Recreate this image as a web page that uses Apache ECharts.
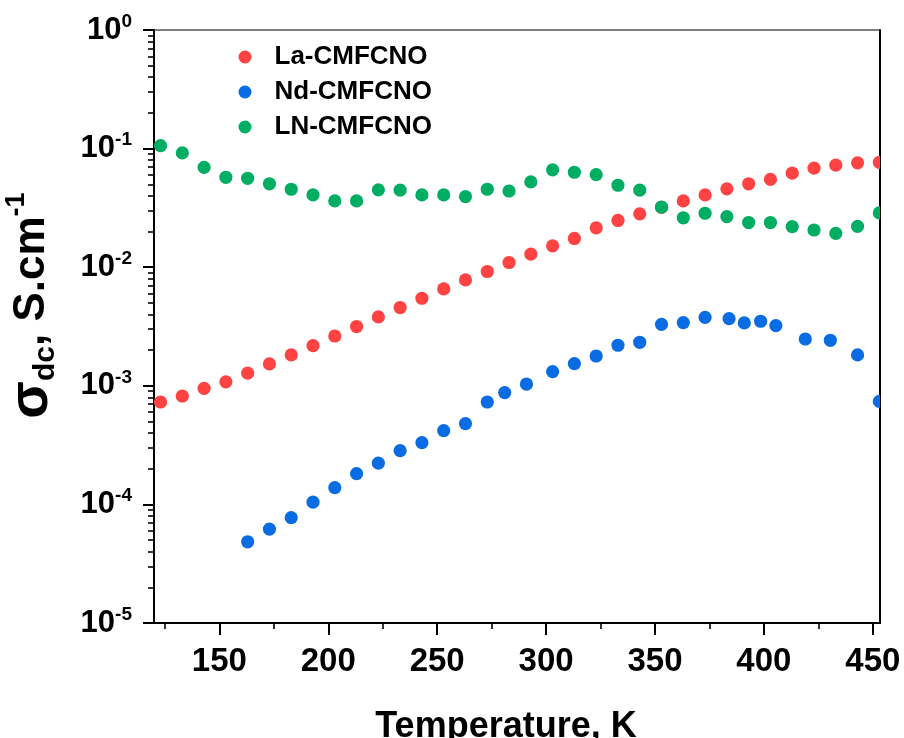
<!DOCTYPE html>
<html>
<head>
<meta charset="utf-8">
<script src="https://cdn.jsdelivr.net/npm/echarts@6.0.0/dist/echarts.min.js"></script>
<style>
  html, body { margin: 0; padding: 0; background: #ffffff; }
  #chart { width: 904px; height: 738px; }
</style>
</head>
<body>
<div id="chart"></div>
<script>
// DC conductivity vs temperature for three ceramic samples
const FONT = "'Liberation Sans', Arial, Helvetica, sans-serif";

const seriesNames = ['La-CMFCNO', 'Nd-CMFCNO', 'LN-CMFCNO'];
const seriesColors = ['#FF4242', '#0A6CE3', '#00AE63'];

// Temperature, K
const tempLa = [123, 133, 143, 153, 163, 173, 183, 193, 203, 213, 223, 233, 243, 253, 263, 273, 283,
  293, 303, 313, 323, 333, 343, 353, 363, 373, 383, 393, 403, 413, 423, 433, 443, 453];
const tempNd = [163, 173, 183, 193, 203, 213, 223, 233, 243, 253, 263, 273, 281, 291, 303,
  313, 323, 333, 343, 353, 363, 373, 384, 391, 398.5, 405.5, 419, 430.5, 443, 453];
const tempLN = [123, 133, 143, 153, 163, 173, 183, 193, 203, 213, 223, 233, 243, 253, 263, 273, 283,
  293, 303, 313, 323, 333, 343, 353, 363, 373, 383, 393, 403, 413, 423, 433, 443, 453];

// sigma_dc, S/cm
const sigmaLa = [7.3e-4, 8.2e-4, 9.5e-4, 1.08e-3, 1.28e-3, 1.53e-3, 1.82e-3, 2.18e-3, 2.63e-3, 3.16e-3,
  3.81e-3, 4.57e-3, 5.47e-3, 6.56e-3, 7.81e-3, 9.2e-3, 0.01096, 0.01288, 0.01513, 0.01747,
  0.02146, 0.02478, 0.02817, 0.0320, 0.0362, 0.0407, 0.0458, 0.0505, 0.0550, 0.0621,
  0.0685, 0.0726, 0.0759, 0.0765];
const sigmaNd = [4.84e-5, 6.19e-5, 7.73e-5, 1.045e-4, 1.383e-4, 1.816e-4, 2.23e-4, 2.84e-4, 3.32e-4, 4.19e-4,
  4.8e-4, 7.3e-4, 8.77e-4, 1.035e-3, 1.318e-3, 1.54e-3, 1.783e-3, 2.198e-3, 2.328e-3, 3.3e-3,
  3.41e-3, 3.78e-3, 3.69e-3, 3.39e-3, 3.5e-3, 3.22e-3, 2.48e-3, 2.42e-3, 1.82e-3, 7.4e-4];
const sigmaLN = [0.106, 0.092, 0.0695, 0.0573, 0.0562, 0.0505, 0.0454, 0.0407, 0.0362, 0.0362,
  0.0449, 0.0446, 0.0407, 0.0407, 0.0394, 0.0454, 0.0439, 0.0524, 0.0662, 0.0632,
  0.0604, 0.0491, 0.0446, 0.0321, 0.0261, 0.0285, 0.0267, 0.0238, 0.0238, 0.0220,
  0.0206, 0.0193, 0.0221, 0.0287];

// Axis ticks
const xTickValues = [150, 200, 250, 300, 350, 400, 450];
const xMinorTickValues = [125, 175, 225, 275, 325, 375, 425];
const yDecades = [1e-5, 1e-4, 1e-3, 1e-2, 1e-1, 1];
const yMinorTickValues = [];
for (let d = 0; d < yDecades.length - 1; d++) {
  for (let k = 2; k <= 9; k++) yMinorTickValues.push(+(k * yDecades[d]).toPrecision(3));
}

const X_MIN = 120, X_MAX = 453.3, Y_MIN = 1e-5, Y_MAX = 1;

function zip(xs, ys) { return xs.map((x, i) => [x, ys[i]]); }
const seriesData = [zip(tempLa, sigmaLa), zip(tempNd, sigmaNd), zip(tempLN, sigmaLN)];

// Dots are drawn as circles so the plot frame clips them like the original figure
function renderDot(params, api) {
  const p = api.coord([api.value(0), api.value(1)]);
  return {
    type: 'circle',
    shape: { cx: p[0], cy: p[1], r: 6.6 },
    style: { fill: api.visual('color') }
  };
}

const chart = echarts.init(document.getElementById('chart'), null, { renderer: 'canvas' });

const option = {
  backgroundColor: '#ffffff',
  animation: false,
  textStyle: { fontFamily: FONT },
  grid: {
    left: 154, right: 24, top: 30, bottom: 115,
    outerBoundsMode: 'none',
    containLabel: false,
    show: true, borderColor: '#000', borderWidth: 1, backgroundColor: 'transparent'
  },
  legend: {
    orient: 'vertical',
    left: 233.5,
    top: 39,
    itemWidth: 13,
    itemHeight: 13,
    itemGap: 9,
    icon: 'circle',
    data: seriesNames,
    textStyle: { fontFamily: FONT, fontSize: 26, fontWeight: 'bold', color: '#000', padding: [0, 0, 0, 18] }
  },
  xAxis: [
    {
      type: 'value', position: 'bottom', min: X_MIN, max: X_MAX,
      name: 'Temperature, K', nameLocation: 'middle', nameGap: 86,
      nameTextStyle: { fontFamily: FONT, fontSize: 36, fontWeight: 'bold', color: '#000', padding: [0, 22, 0, 0] },
      splitLine: { show: false },
      axisLine: { show: true, lineStyle: { color: '#000', width: 2 } },
      axisTick: { show: true, inside: false, length: 12, lineStyle: { color: '#000', width: 2 }, customValues: xTickValues },
      axisLabel: { show: true, margin: 22, fontFamily: FONT, fontSize: 33, fontWeight: 'bold', color: '#000', customValues: xTickValues }
    },
    {
      type: 'value', position: 'bottom', min: X_MIN, max: X_MAX,
      splitLine: { show: false },
      axisLine: { show: false },
      axisLabel: { show: false },
      axisTick: { show: true, inside: false, length: 6, lineStyle: { color: '#000', width: 1.6 }, customValues: xMinorTickValues }
    }
  ],
  yAxis: [
    {
      type: 'log', logBase: 10, position: 'left', min: Y_MIN, max: Y_MAX,
      name: '{sig|σ}{sub|dc}{n|, S.cm}{sup|-1}',
      nameLocation: 'middle', nameRotate: 90, nameGap: 93,
      nameTextStyle: {
        fontFamily: FONT, color: '#000', padding: [0, 0, 0, 42],
        rich: {
          sig: { fontFamily: FONT, fontSize: 55, fontWeight: 'bold', lineHeight: 58, verticalAlign: 'middle', color: '#000' },
          sub: { fontFamily: FONT, fontSize: 30, fontWeight: 'bold', lineHeight: 30, verticalAlign: 'bottom', color: '#000' },
          n: { fontFamily: FONT, fontSize: 44, fontWeight: 'bold', lineHeight: 58, verticalAlign: 'middle', color: '#000' },
          sup: { fontFamily: FONT, fontSize: 27, fontWeight: 'bold', lineHeight: 27, verticalAlign: 'top', color: '#000' }
        }
      },
      splitLine: { show: false },
      axisLine: { show: true, lineStyle: { color: '#000', width: 2 } },
      axisTick: { show: true, inside: false, length: 11, lineStyle: { color: '#000', width: 2 } },
      axisLabel: {
        show: true, margin: 22,
        formatter: function (v) {
          const e = Math.round(Math.log10(v));
          return '{b|10}{s|' + (e === 0 ? '0' : String(e)) + '}';
        },
        rich: {
          b: { fontFamily: FONT, fontSize: 31, fontWeight: 'bold', lineHeight: 36, verticalAlign: 'middle', color: '#000' },
          s: { fontFamily: FONT, fontSize: 19, fontWeight: 'bold', lineHeight: 19, verticalAlign: 'top', color: '#000' }
        }
      }
    },
    {
      type: 'log', logBase: 10, position: 'left', min: Y_MIN, max: Y_MAX,
      splitLine: { show: false },
      axisLine: { show: false },
      axisLabel: { show: false },
      axisTick: { show: true, inside: false, length: 6, lineStyle: { color: '#000', width: 1.6 }, customValues: yMinorTickValues }
    },
    {
      type: 'value', position: 'right', min: 0, max: 1,
      splitLine: { show: false },
      axisLine: { show: true, lineStyle: { color: '#000', width: 2 } },
      axisTick: { show: false },
      axisLabel: { show: false }
    }
  ],
  series: seriesNames.map((name, i) => ({
    name: name,
    type: 'custom',
    xAxisIndex: 0,
    yAxisIndex: 0,
    clip: true,
    encode: { x: 0, y: 1 },
    itemStyle: { color: seriesColors[i] },
    renderItem: renderDot,
    data: seriesData[i]
  }))
};

chart.setOption(option);
</script>
</body>
</html>
